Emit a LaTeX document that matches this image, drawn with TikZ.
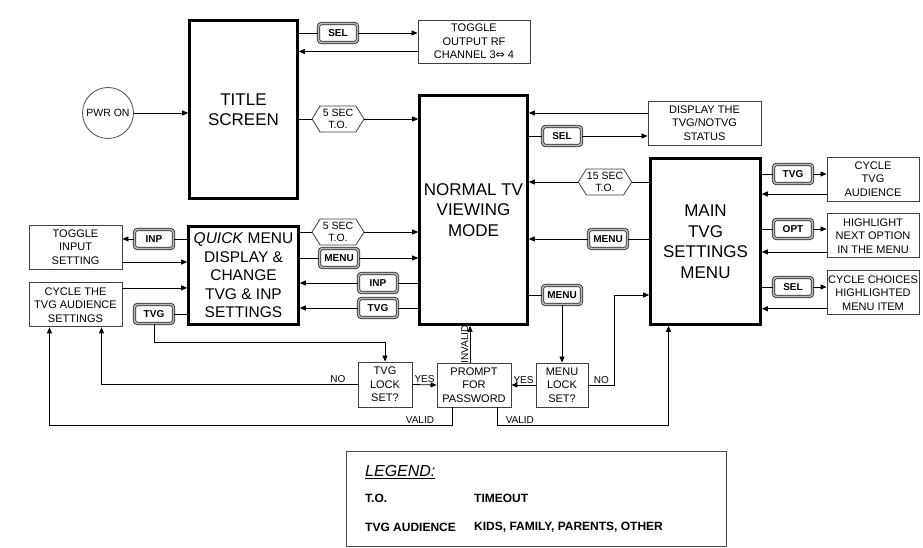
\documentclass[tikz,border=0pt]{standalone}
\usepackage{fontspec}
\setmainfont{Liberation Sans}
\newfontfamily\arrowfont{DejaVu Sans}
\usetikzlibrary{arrows.meta, positioning, shapes.symbols}

\begin{document}
\begin{tikzpicture}[x=1pt, y=-1pt,
    bigbox/.style={draw, line width=2.6pt, align=center, inner sep=0pt, font=\fontsize{17}{20.5}\selectfont},
    infobox/.style={draw=black!75, line width=0.9pt, align=center, inner sep=0pt, minimum height=44pt, font=\fontsize{11}{13.5}\selectfont},
    keybtn/.style={draw=black!85, double=gray!55, double distance=1.6pt, line width=0.8pt, rounded corners=3pt, fill=white,
      minimum width=39pt, minimum height=19pt, inner sep=0pt, font=\bfseries\fontsize{10}{10}\selectfont},
    timeout/.style={draw=black!75, line width=0.8pt, signal, signal to=west and east, signal pointer angle=116, fill=white,
      align=center, inner sep=0.5pt, minimum width=52pt, minimum height=26pt, font=\fontsize{10.5}{12}\selectfont},
    wire/.style={line width=0.8pt},
    conn/.style={line width=0.8pt, -{Triangle[length=6pt,width=5pt]}},
    lbl/.style={inner sep=1.5pt, font=\fontsize{10}{10}\selectfont},
    legtxt/.style={inner sep=0pt, anchor=west, font=\bfseries\fontsize{12}{13}\selectfont}]
  \useasboundingbox (0,0) rectangle (923,548);

  % states
  \node[draw=black!70, line width=0.8pt, circle, minimum size=51pt, inner sep=0pt, font=\fontsize{10.5}{12}\selectfont] (pwr) at (108,113) {PWR ON};
  \node[bigbox, minimum width=108pt, minimum height=178pt] (title) at (243.5,109.5) {TITLE\\SCREEN};
  \node[bigbox, minimum width=108pt, minimum height=229pt] (normal) at (473.5,210) {NORMAL TV\\VIEWING\\MODE};
  \node[bigbox, minimum width=110pt, minimum height=98pt, font=\fontsize{15.5}{18.5}\selectfont] (quick) at (243.5,275.5)
    {\textit{QUICK} MENU\\DISPLAY \&\\CHANGE\\TVG \& INP\\SETTINGS};
  \node[bigbox, minimum width=110pt, minimum height=166pt] (main) at (705.5,241.5) {MAIN\\TVG\\SETTINGS\\MENU};

  \node[infobox, minimum width=112pt, minimum height=43pt] (rf) at (474,41.5) {TOGGLE\\OUTPUT RF\\CHANNEL 3{\arrowfont ⇔} 4};
  \node[infobox, minimum width=113pt] (disp) at (704.5,123) {DISPLAY THE\\TVG/NOTVG\\STATUS};
  \node[infobox, minimum width=92pt] (cyc) at (873,179) {CYCLE\\TVG\\AUDIENCE};
  \node[infobox, minimum width=92pt, below=12pt of cyc] (hl) {HIGHLIGHT\\NEXT OPTION\\IN THE MENU};
  \node[infobox, minimum width=92pt, below=12pt of hl] (cch) {CYCLE CHOICES\\HIGHLIGHTED\\MENU ITEM};
  \node[infobox, minimum width=93pt] (tin) at (75.5,247) {TOGGLE\\INPUT\\SETTING};
  \node[infobox, minimum width=93pt, below=13pt of tin] (caud) {CYCLE THE\\TVG AUDIENCE\\SETTINGS};
  \node[infobox, minimum width=54pt, minimum height=45pt] (tlock) at (385,384.5) {TVG\\LOCK\\SET?};
  \node[infobox, minimum width=74pt] (prompt) at (474,385) {PROMPT\\FOR\\PASSWORD};
  \node[infobox, minimum width=52pt] (mlock) at (562,385) {MENU\\LOCK\\SET?};

  % keys
  \node[keybtn] (bsel1) at (338,33) {SEL};
  \node[keybtn] (bsel2) at (562,136) {SEL};
  \node[keybtn] (bmenu1) at (608,239) {MENU};
  \node[keybtn] (bmenu2) at (562,295) {MENU};
  \node[keybtn] (bmenu3) at (339,258) {MENU};
  \node[keybtn] (binp1) at (154,239) {INP};
  \node[keybtn] (binp2) at (378,283) {INP};
  \node[keybtn] (btvg1) at (154,314) {TVG};
  \node[keybtn] (btvg2) at (378,308) {TVG};
  \node[keybtn] (btvg3) at (793,174) {TVG};
  \node[keybtn] (bopt) at (793,229) {OPT};
  \node[keybtn] (bsel3) at (793,287) {SEL};

  % timeouts
  \node[timeout] (to1) at (338,119) {5 SEC\\T.O.};
  \node[timeout] (to2) at (338,232) {5 SEC\\T.O.};
  \node[timeout, minimum width=45pt] (to3) at (605,182) {15 SEC\\T.O.};

  % title screen
  \draw[conn] (pwr) -- (pwr -| title.west);
  \draw[wire] (bsel1.west -| title.east) -- (bsel1.west);
  \draw[conn] (bsel1.east) -- (bsel1.east -| rf.west);
  \draw[conn] ([yshift=-10pt]rf.west) -- ([yshift=-10pt]rf.west -| title.east);
  \draw[wire] (to1.west -| title.east) -- (to1.west);
  \draw[conn] (to1.east) -- (to1.east -| normal.west);

  % normal viewing
  \draw[conn] ([yshift=10pt]disp.west) -- ([yshift=10pt]disp.west -| normal.east);
  \draw[wire] (bsel2.west -| normal.east) -- (bsel2.west);
  \draw[conn] (bsel2.east) -- (bsel2.east -| disp.west);
  \draw[wire] (bmenu2.west -| normal.east) -- (bmenu2.west);
  \draw[conn] (bmenu2.south) -- (mlock.north);

  % main menu
  \draw[wire] (to3.east -| main.west) -- (to3.east);
  \draw[conn] (to3.west) -- (to3.west -| normal.east);
  \draw[wire] (bmenu1.east -| main.west) -- (bmenu1.east);
  \draw[conn] (bmenu1.west) -- (bmenu1.west -| normal.east);
  \draw[wire] (btvg3.west -| main.east) -- (btvg3.west);
  \draw[conn] (btvg3.east) -- (btvg3.east -| cyc.west);
  \draw[conn] ([yshift=-15pt]cyc.west) -- ([yshift=-15pt]cyc.west -| main.east);
  \draw[wire] (bopt.west -| main.east) -- (bopt.west);
  \draw[conn] (bopt.east) -- (bopt.east -| hl.west);
  \draw[conn] ([yshift=-16pt]hl.west) -- ([yshift=-16pt]hl.west -| main.east);
  \draw[wire] (bsel3.west -| main.east) -- (bsel3.west);
  \draw[conn] (bsel3.east) -- (bsel3.east -| cch.west);
  \draw[conn] ([yshift=-16pt]cch.west) -- ([yshift=-16pt]cch.west -| main.east);

  % quick menu
  \draw[wire] (binp1.east -| quick.west) -- (binp1.east);
  \draw[conn] (binp1.west) -- (binp1.west -| tin.east);
  \draw[conn] ([yshift=-15pt]tin.east) -- ([yshift=-15pt]tin.east -| quick.west);
  \draw[conn] ([yshift=17pt]caud.east) -- ([yshift=17pt]caud.east -| quick.west);
  \draw[wire] (btvg1.east -| quick.west) -- (btvg1.east);
  \draw[conn] (btvg1.south) |- ([yshift=19pt]tlock.north) -- (tlock.north);
  \draw[wire] (to2.west -| quick.east) -- (to2.west);
  \draw[conn] (to2.east) -- (to2.east -| normal.west);
  \draw[wire] (bmenu3.west -| quick.east) -- (bmenu3.west);
  \draw[conn] (bmenu3.east) -- (bmenu3.east -| normal.west);
  \draw[wire] (binp2.east -| normal.west) -- (binp2.east);
  \draw[conn] (binp2.west) -- (binp2.west -| quick.east);
  \draw[wire] (btvg2.east -| normal.west) -- (btvg2.east);
  \draw[conn] (btvg2.west) -- (btvg2.west -| quick.east);

  % lock checks and password
  \draw[conn] (tlock.east) -- node[lbl, above] {YES} (prompt.west);
  \draw[conn] (mlock.west) -- node[lbl, above] {YES} (prompt.east);
  \draw[conn] (tlock.west) -| node[lbl, pos=0.02, above left] {NO} ([xshift=26pt]caud.south);
  \draw[conn] (mlock.east) -- node[lbl, above] {NO} ++(26,0) |- (main.west |- bmenu2);
  \draw[conn] ([xshift=-4pt]prompt.north) -- ([xshift=-4pt]prompt.north |- normal.south)
    node[lbl, midway, rotate=90, anchor=south] {INVALID};
  \draw[conn] ([xshift=-22pt]prompt.south) -- ++(0,18) -| node[lbl, pos=0.02, above left] {VALID} ([xshift=-26pt]caud.south);
  \draw[conn] ([xshift=23pt]prompt.south) -- ++(0,18) -| node[lbl, pos=0.02, above right] {VALID} ([xshift=-37pt]main.south);

  % legend
  \node[draw=black!70, line width=0.9pt, minimum width=380pt, minimum height=95pt] (legend) at (536.5,499) {};
  \node[inner sep=0pt, anchor=west, font=\itshape\fontsize{16}{16}\selectfont] (legtitle) at (365,472) {\underline{LEGEND:}};
  \node[legtxt] (to) at (365,498) {T.O.};
  \node[legtxt] (toval) at (474,498) {TIMEOUT};
  \node[legtxt] (aud) at (365,527) {TVG AUDIENCE};
  \node[legtxt] (audval) at (474,527) {KIDS, FAMILY, PARENTS, OTHER};
\end{tikzpicture}
\end{document}
